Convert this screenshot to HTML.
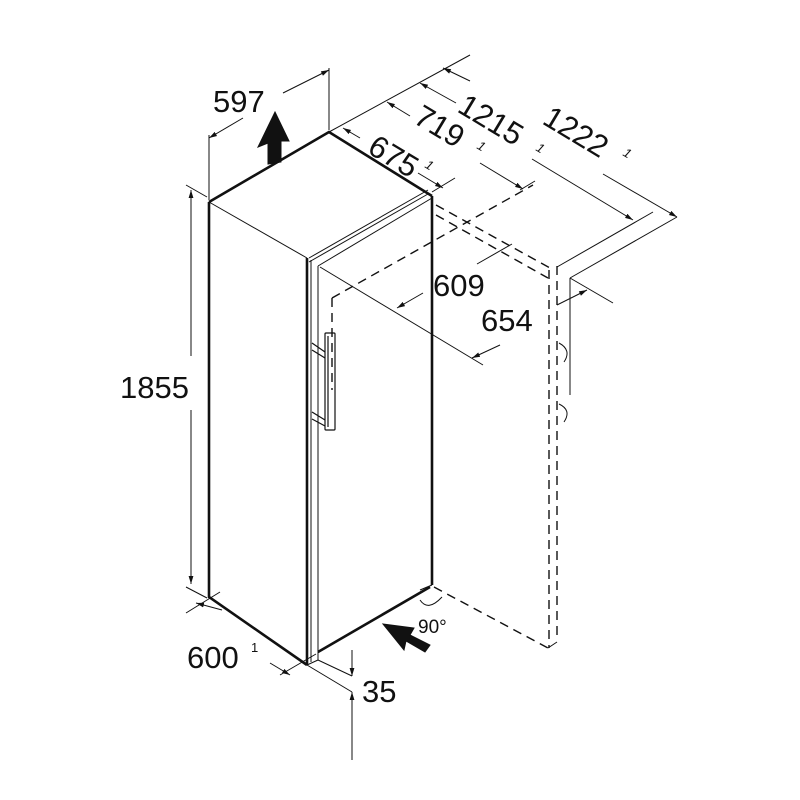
<!DOCTYPE html>
<html><head><style>body{margin:0;background:#fff}svg{display:block}text{font-family:"Liberation Sans",sans-serif;fill:#111;stroke:none;font-weight:normal}</style></head><body>
<svg width="800" height="800" viewBox="0 0 800 800" xmlns="http://www.w3.org/2000/svg">
<defs><marker id="a" viewBox="0 0 10 10" refX="10" refY="5" markerWidth="8" markerHeight="8" orient="auto-start-reverse" markerUnits="userSpaceOnUse"><path d="M0,2 L10,5 L0,8z" fill="#111"/></marker></defs>
<g stroke="#111" fill="none">
<g stroke-width="2.6">
<path d="M209,202 L329,132 L432,196"/>
<path d="M209,202 L209,597 L307,665"/>
<path d="M432,196 L432,585"/>
<path d="M307,258 L307,665"/>
<path d="M318,652 L430,587"/>
</g>
<g stroke-width="1">
<path d="M209,202 L307,258"/>
<path d="M309,258 L428,190"/>
<path d="M309,262 L428,194"/>
<path d="M311,260 L311,662"/>
<path d="M318,266 L432,198"/>
<path d="M318,266 L318,652"/>
<path d="M307,665 L318,660 L318,652"/>
<path d="M420,590 L432,585"/>
</g>
<g stroke-width="1.2">
<rect x="325" y="333" width="10" height="97" rx="1" fill="#fff"/>
<path d="M328,336 L328,427"/>
<path d="M312,343 L325,352 M312,350 L325,358"/>
<path d="M312,412 L325,420 M312,419 L325,426"/>
</g>
<g stroke-width="1.4" stroke-dasharray="9,6">
<path d="M332,298 L533,185"/>
<path d="M332,298 L332,390"/>
<path d="M436,205 L550,268"/>
<path d="M436,215 L548,278"/>
<path d="M549,270 L549,648"/>
<path d="M557,266 L557,640"/>
<path d="M434,587 L548,648"/>
</g>
<g stroke-width="1">
<path d="M548,648 L557,642"/>
<path d="M557,267 L653,212"/>
<path d="M570,278 L677,217"/>
<path d="M570,278 L613,303"/>
<path d="M570,278 L570,395"/>
<path d="M559,343 Q572,350 564,362 M559,404 Q572,410 564,422"/>
<path d="M209,135 L209,200 M329,68 L329,130"/>
<path d="M243,118 L209,138" marker-end="url(#a)"/>
<path d="M283,93 L329,70" marker-end="url(#a)"/>
<path d="M186,185 L207,197 M186,587 L207,598"/>
<path d="M191,356 L191,190" marker-end="url(#a)"/>
<path d="M191,410 L191,584" marker-end="url(#a)"/>
<path d="M186,613 L220,592 M280,675 L316,654"/>
<path d="M222,610 L196,603" marker-end="url(#a)"/>
<path d="M270,663 L290,675" marker-end="url(#a)"/>
<path d="M307,665 L352,692 M318,660 L352,676"/>
<path d="M352,650 L352,676" marker-end="url(#a)"/>
<path d="M352,760 L352,692" marker-end="url(#a)"/>
<path d="M329,132 L470,55"/>
<path d="M432,192 L455,178"/>
<path d="M520,190 L535,181"/>
<path d="M360,138 L343,128" marker-end="url(#a)"/>
<path d="M418,173 L443,188" marker-end="url(#a)"/>
<path d="M410,116 L387,102" marker-end="url(#a)"/>
<path d="M480,163 L523,189" marker-end="url(#a)"/>
<path d="M456,103 L420,83" marker-end="url(#a)"/>
<path d="M532,159 L633,220" marker-end="url(#a)"/>
<path d="M470,81 L443,68" marker-end="url(#a)"/>
<path d="M603,174 L677,217" marker-end="url(#a)"/>
<path d="M320,267 L483,365"/>
<path d="M423,293 L397,308" marker-end="url(#a)"/>
<path d="M477,264 L512,244"/>
<path d="M500,345 L472,358" marker-end="url(#a)"/>
<path d="M557,305 L587,290" marker-end="url(#a)"/>
<path d="M420,600 Q428,612 442,597"/>
</g>
<path d="M275,112 L289,141 L281,141 L281,162 L268,164 L268,143 L258,147 Z" fill="#111"/>
<path d="M383,624 L414,628 L410,635 L430,645 L425,652 L406,641 L404,650 Z" fill="#111"/>
<text x="213" y="112" font-size="31">597</text>
<text x="120" y="398" font-size="31">1855</text>
<text x="187" y="668" font-size="31">600</text><text x="251" y="652" font-size="13">1</text>
<text x="362" y="702" font-size="31">35</text>
<text x="433" y="296" font-size="31">609</text>
<text x="481" y="331" font-size="31">654</text>
<text x="418" y="633" font-size="19">90°</text>
<g font-size="31">
<text transform="translate(366,152) rotate(31)">675</text>
<text font-size="13" font-style="italic" transform="translate(424,167) rotate(31)">1</text>
<text transform="translate(412,122) rotate(31)">719</text>
<text font-size="13" font-style="italic" transform="translate(476,148) rotate(31)">1</text>
<text transform="translate(456,111) rotate(31)">1215</text>
<text font-size="13" font-style="italic" transform="translate(535,150) rotate(31)">1</text>
<text transform="translate(541,123) rotate(31)">1222</text>
<text font-size="13" font-style="italic" transform="translate(622,155) rotate(31)">1</text>
</g>
</svg>
</body></html>
